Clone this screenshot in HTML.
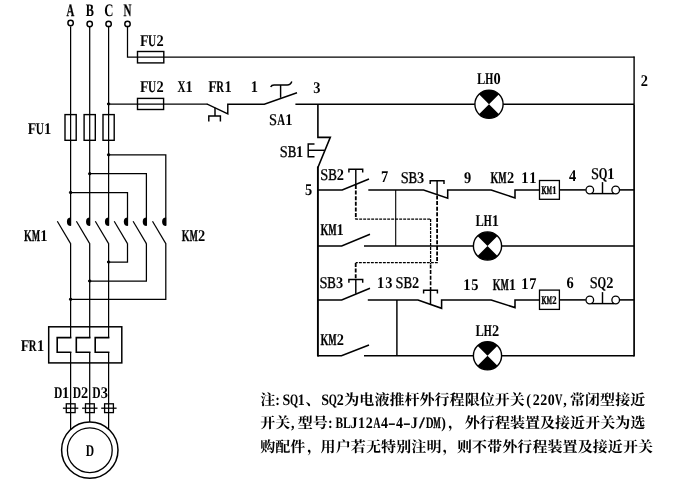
<!DOCTYPE html>
<html><head><meta charset="utf-8"><title>Circuit</title>
<style>
html,body{margin:0;padding:0;background:#fff;}
body{width:677px;height:483px;overflow:hidden;font-family:"Liberation Serif",serif;}
svg{display:block;}
svg .w path, svg .w circle, svg .w rect{stroke:#000;}
svg .w path{fill:none;}
svg text{font-family:"Liberation Serif",serif;font-weight:bold;fill:#000;stroke:#000;vector-effect:non-scaling-stroke;text-rendering:geometricPrecision;}
svg text.r{font-weight:normal;}
svg .t{opacity:.999;}
svg .c text{font-family:"Liberation Serif","Noto Serif CJK SC",serif;font-weight:bold;font-size:15px;stroke:none;}
</style></head><body>
<svg width="677" height="483" viewBox="0 0 677 483">
<rect x="0" y="0" width="677" height="483" fill="#fff"/>
<g class="w" stroke="#000" fill="none">
<circle cx="70.6" cy="23" r="2.7" stroke-width="1.45" fill="#fff"/>
<circle cx="89.7" cy="24" r="2.7" stroke-width="1.45" fill="#fff"/>
<circle cx="108.6" cy="23.9" r="2.7" stroke-width="1.45" fill="#fff"/>
<circle cx="127.5" cy="23.9" r="2.7" stroke-width="1.45" fill="#fff"/>
<path d="M70.6 26.4 L70.6 225.5" stroke-width="1.25"/>
<path d="M89.7 26.4 L89.7 225.5" stroke-width="1.25"/>
<path d="M108.6 26.4 L108.6 225.5" stroke-width="1.25"/>
<path d="M127.5 26.6 L127.5 57.2 L634.5 57.2" stroke-width="1.25"/>
<rect x="65" y="114.6" width="11.2" height="25.7" stroke-width="1.4" fill="none"/>
<rect x="84.1" y="114.6" width="11.2" height="25.7" stroke-width="1.4" fill="none"/>
<rect x="103" y="114.6" width="11.2" height="25.7" stroke-width="1.4" fill="none"/>
<rect x="137.5" y="51.5" width="26.3" height="11.4" stroke-width="1.4" fill="none"/>
<rect x="137.5" y="98.4" width="26.1" height="11.1" stroke-width="1.4" fill="none"/>
<path d="M108.6 154.8 L165.8 154.8 L165.8 225.5" stroke-width="1.25"/>
<path d="M89.7 173.7 L146.4 173.7 L146.4 225.5" stroke-width="1.25"/>
<path d="M70.6 192.5 L127.5 192.5 L127.5 225.5" stroke-width="1.25"/>
<circle cx="108.6" cy="154.8" r="1.2" fill="#000" stroke="none"/>
<circle cx="89.7" cy="173.7" r="1.2" fill="#000" stroke="none"/>
<circle cx="70.6" cy="192.5" r="1.2" fill="#000" stroke="none"/>
<circle cx="108.6" cy="103.9" r="1.2" fill="#000" stroke="none"/>
<path d="M70.9 217.6 A4 4.2 0 0 0 70.9 226 Z" style="fill:#000;stroke:none"/>
<path d="M57.3 221.3 L70.6 243.6" stroke-width="1.2"/>
<path d="M90 217.6 A4 4.2 0 0 0 90 226 Z" style="fill:#000;stroke:none"/>
<path d="M76.4 221.3 L89.7 243.6" stroke-width="1.2"/>
<path d="M108.9 217.6 A4 4.2 0 0 0 108.9 226 Z" style="fill:#000;stroke:none"/>
<path d="M95.3 221.3 L108.6 243.6" stroke-width="1.2"/>
<path d="M127.8 217.6 A4 4.2 0 0 0 127.8 226 Z" style="fill:#000;stroke:none"/>
<path d="M114.2 221.3 L127.5 243.6" stroke-width="1.2"/>
<path d="M146.7 217.6 A4 4.2 0 0 0 146.7 226 Z" style="fill:#000;stroke:none"/>
<path d="M133.1 221.3 L146.4 243.6" stroke-width="1.2"/>
<path d="M166.1 217.6 A4 4.2 0 0 0 166.1 226 Z" style="fill:#000;stroke:none"/>
<path d="M152.5 221.3 L165.8 243.6" stroke-width="1.2"/>
<path d="M70.6 243.2 L70.6 337.6" stroke-width="1.25"/>
<path d="M70.6 336.8 L70.6 337.6 L57.2 337.6 L57.2 352.2 L70.6 352.2 L70.6 353" stroke-width="1.6"/>
<path d="M70.6 352.2 L70.6 404" stroke-width="1.25"/>
<path d="M89.7 243.2 L89.7 337.6" stroke-width="1.25"/>
<path d="M89.7 336.8 L89.7 337.6 L76.3 337.6 L76.3 352.2 L89.7 352.2 L89.7 353" stroke-width="1.6"/>
<path d="M89.7 352.2 L89.7 404" stroke-width="1.25"/>
<path d="M108.6 243.2 L108.6 337.6" stroke-width="1.25"/>
<path d="M108.6 336.8 L108.6 337.6 L95.2 337.6 L95.2 352.2 L108.6 352.2 L108.6 353" stroke-width="1.6"/>
<path d="M108.6 352.2 L108.6 404" stroke-width="1.25"/>
<path d="M127.5 243.2 L127.5 262 L108.6 262" stroke-width="1.25"/>
<path d="M146.4 243.2 L146.4 281 L89.7 281" stroke-width="1.25"/>
<path d="M165.8 243.2 L165.8 299.3 L70.6 299.3" stroke-width="1.25"/>
<circle cx="108.6" cy="262" r="1.2" fill="#000" stroke="none"/>
<circle cx="89.7" cy="281" r="1.2" fill="#000" stroke="none"/>
<circle cx="70.6" cy="299.3" r="1.2" fill="#000" stroke="none"/>
<rect x="48.7" y="326.8" width="73.1" height="36.1" stroke-width="1.5" fill="none"/>
<rect x="66.3" y="403.8" width="8.8" height="8.8" stroke-width="1.3" fill="none"/>
<path d="M62.9 408.2 L78.3 408.2" stroke-width="1.3"/>
<rect x="85.5" y="403.8" width="8.8" height="8.8" stroke-width="1.3" fill="none"/>
<path d="M82.1 408.2 L97.5 408.2" stroke-width="1.3"/>
<rect x="104.6" y="403.8" width="8.8" height="8.8" stroke-width="1.3" fill="none"/>
<path d="M101.2 408.2 L116.6 408.2" stroke-width="1.3"/>
<path d="M70.6 404 L70.6 430" stroke-width="1.25"/>
<path d="M89.7 404 L89.7 423" stroke-width="1.25"/>
<path d="M108.6 404 L108.6 430" stroke-width="1.25"/>
<circle cx="89.8" cy="450.1" r="28.2" stroke-width="1.5" fill="#fff"/>
<circle cx="89.8" cy="450.2" r="22.4" stroke-width="1.3" fill="#fff"/>
<path d="M108.6 104.2 L207.3 104.2" stroke-width="1.2"/>
<path d="M206.8 104.2 L207.3 104.2 L227.8 113.8 L227.8 104.2 L264.3 104.2 L297 92.7" stroke-width="1.45"/>
<path d="M215 107.8 L215 116" stroke-width="1.45"/>
<path d="M208.8 121.5 L208.8 116 L220.4 116 L220.4 121.5" stroke-width="1.45"/>
<path d="M280.6 97.8 L280.6 85" stroke-width="1.45"/>
<path d="M270.7 87 Q271.5 85 274 85 L287.2 85 Q290.6 85 291.8 81.5" stroke-width="1.45"/>
<path d="M295.4 104.2 L634.1 104.2" stroke-width="1.35"/>
<path d="M634.1 56.6 L634.1 104.2" stroke-width="1.4"/>
<path d="M634.1 104.2 L634.1 356.5" stroke-width="1.7"/>
<path d="M317.9 104.2 L317.9 137.4 L330.3 137.4 L317.9 167.5" stroke-width="1.6"/>
<path d="M317.9 166.5 L317.9 356.6" stroke-width="1.9"/>
<path d="M314.5 144 L308.2 144 L308.2 156.7 L314.5 156.7" stroke-width="1.45"/>
<path d="M308.2 150.3 L324.6 150.3" stroke-width="1.45"/>
<path d="M317.9 189.9 L342.2 189.9 L369 179" stroke-width="1.55"/>
<path d="M368.3 189.9 L423.6 189.9 L447.7 198.2 L447.7 189.9 L491.2 189.9 L515 198 L515 189.9 L539.5 189.9" stroke-width="1.55"/>
<path d="M559.3 189.9 L585.8 189.9" stroke-width="1.55"/>
<path d="M619.7 189.9 L634.1 189.9" stroke-width="1.55"/>
<path d="M317.9 246 L341.7 246 L370 234.3" stroke-width="1.55"/>
<path d="M364 246 L634.1 246" stroke-width="1.55"/>
<path d="M395.7 189.9 L395.7 246" stroke-width="1.1"/>
<path d="M317.9 299.9 L341.7 299.9 L370 288.3" stroke-width="1.55"/>
<path d="M367.8 299.9 L418 299.9 L441.6 308.3 L441.6 299.9 L491.2 299.9 L515 307.6 L515 299.9 L539.5 299.9" stroke-width="1.55"/>
<path d="M559.3 299.9 L585.8 299.9" stroke-width="1.55"/>
<path d="M619.7 299.9 L634.1 299.9" stroke-width="1.55"/>
<path d="M317.9 355.8 L341.5 355.8 L369 345" stroke-width="1.55"/>
<path d="M364 355.8 L634.1 355.8" stroke-width="1.55"/>
<path d="M396.9 299.9 L396.9 355.8" stroke-width="1.45"/>
<rect x="539.5" y="180.5" width="19.9" height="18.8" stroke-width="1.3" fill="#fff"/>
<rect x="539.5" y="290.1" width="19.9" height="19.3" stroke-width="1.3" fill="#fff"/>
<circle cx="589.8" cy="190" r="3.8" stroke-width="1.3" fill="#fff"/>
<circle cx="615.7" cy="190" r="3.8" stroke-width="1.3" fill="#fff"/>
<path d="M591.5 193.6 L614 193.6" stroke-width="1.45"/>
<path d="M602.5 182.1 L602.5 193.6" stroke-width="1.45"/>
<circle cx="589.8" cy="300" r="3.8" stroke-width="1.3" fill="#fff"/>
<circle cx="615.7" cy="300" r="3.8" stroke-width="1.3" fill="#fff"/>
<path d="M591.5 303.6 L614 303.6" stroke-width="1.45"/>
<path d="M602.5 292.1 L602.5 303.6" stroke-width="1.45"/>
<circle cx="489" cy="104.2" r="14.1" stroke-width="1.4" fill="#fff"/>
<path d="M489 104.2 L479.03 94.23 A14.1 14.1 0 0 1 498.97 94.23 Z M489 104.2 L498.97 114.17 A14.1 14.1 0 0 1 479.03 114.17 Z" style="fill:#000;stroke:none"/>
<circle cx="487.5" cy="246" r="14.1" stroke-width="1.4" fill="#fff"/>
<path d="M487.5 246 L477.53 236.03 A14.1 14.1 0 0 1 497.47 236.03 Z M487.5 246 L497.47 255.97 A14.1 14.1 0 0 1 477.53 255.97 Z" style="fill:#000;stroke:none"/>
<circle cx="487.5" cy="355.8" r="14.1" stroke-width="1.4" fill="#fff"/>
<path d="M487.5 355.8 L477.53 345.83 A14.1 14.1 0 0 1 497.47 345.83 Z M487.5 355.8 L497.47 365.77 A14.1 14.1 0 0 1 477.53 365.77 Z" style="fill:#000;stroke:none"/>
<path d="M348.9 172.6 L348.9 169.3 L362.7 169.3 L362.7 172.6" stroke-width="1.45"/>
<path d="M355.8 169.3 L355.8 184.5" stroke-width="1.45"/>
<path d="M430.2 184 L430.2 180.7 L444 180.7 L444 184" stroke-width="1.45"/>
<path d="M437.1 180.7 L437.1 194.5" stroke-width="1.45"/>
<path d="M348.9 282.7 L348.9 279.4 L362.7 279.4 L362.7 282.7" stroke-width="1.45"/>
<path d="M355.8 279.4 L355.8 293.8" stroke-width="1.45"/>
<path d="M423.6 293.5 L423.6 290.2 L437.4 290.2 L437.4 293.5" stroke-width="1.45"/>
<path d="M430.5 290.2 L430.5 305" stroke-width="1.45"/>
<path d="M355.8 185 L355.8 219.1" stroke-width="1.8" stroke-dasharray="4 1.6"/>
<path d="M355.2 219.1 L430.6 219.1" stroke-width="1.25" stroke-dasharray="2.9 1.1"/>
<path d="M430.6 219.1 L430.6 264" stroke-width="1.25" stroke-dasharray="2.9 1.1"/>
<path d="M430.6 264.5 L430.6 290.2" stroke-width="1.6" stroke-dasharray="4 1.6"/>
<path d="M437.1 195.5 L437.1 262.7" stroke-width="1.8" stroke-dasharray="4 1.6"/>
<path d="M437.8 262.7 L355.7 262.7" stroke-width="1.25" stroke-dasharray="2.9 1.1"/>
<path d="M355.7 263 L355.7 279.4" stroke-width="1.8" stroke-dasharray="4 1.6"/>
</g>
<g class="t">
<text transform="translate(66.49 15.6) scale(0.612 1)" font-size="17.6" stroke-width="0.28">A</text>
<text transform="translate(85.8 15.6) scale(0.694 1)" font-size="17.6" stroke-width="0.07">B</text>
<text transform="translate(104.18 15.6) scale(0.723 1)" font-size="17.6" stroke-width="0">C</text>
<text transform="translate(123.39 15.6) scale(0.626 1)" font-size="17.6" stroke-width="0.25">N</text>
<text transform="translate(140.06 45.9) scale(0.849 1)" font-size="16.4" stroke-width="0">F</text>
<text transform="translate(148.02 45.9) scale(0.689 1)" font-size="16.4" stroke-width="0.07">U</text>
<text transform="translate(156.5 45.9) scale(0.880 1)" font-size="16.4" stroke-width="0">2</text>
<text transform="translate(140.06 92.4) scale(0.849 1)" font-size="16.4" stroke-width="0">F</text>
<text transform="translate(148.02 92.4) scale(0.689 1)" font-size="16.4" stroke-width="0.07">U</text>
<text transform="translate(156.5 92.4) scale(0.880 1)" font-size="16.4" stroke-width="0">2</text>
<text transform="translate(177.4 92.4) scale(0.670 1)" font-size="16.4" stroke-width="0.12">X</text>
<text transform="translate(185.59 92.4) scale(0.880 1)" font-size="16.4" stroke-width="0">1</text>
<text transform="translate(208.16 92.2) scale(0.849 1)" font-size="16.4" stroke-width="0">F</text>
<text transform="translate(216.22 92.2) scale(0.649 1)" font-size="16.4" stroke-width="0.17">R</text>
<text transform="translate(224.39 92.2) scale(0.880 1)" font-size="16.4" stroke-width="0">1</text>
<text transform="translate(250.84 92.2) scale(0.880 1)" font-size="16.4" stroke-width="0">1</text>
<text transform="translate(313.36 92.6) scale(0.880 1)" font-size="16.4" stroke-width="0">3</text>
<text transform="translate(269.07 125) scale(0.880 1)" font-size="16.4" stroke-width="0.28" class="r">S</text>
<text transform="translate(277.22 125) scale(0.657 1)" font-size="16.4" stroke-width="0.15">A</text>
<text transform="translate(285.31 125) scale(0.880 1)" font-size="16.4" stroke-width="0">1</text>
<text transform="translate(279.87 156.5) scale(0.880 1)" font-size="16.4" stroke-width="0.28" class="r">S</text>
<text transform="translate(287.75 156.5) scale(0.786 1)" font-size="16.4" stroke-width="0.42" class="r">B</text>
<text transform="translate(296.11 156.5) scale(0.880 1)" font-size="16.4" stroke-width="0">1</text>
<text transform="translate(27.86 133.5) scale(0.849 1)" font-size="16.4" stroke-width="0">F</text>
<text transform="translate(35.82 133.5) scale(0.689 1)" font-size="16.4" stroke-width="0.07">U</text>
<text transform="translate(44.09 133.5) scale(0.880 1)" font-size="16.4" stroke-width="0">1</text>
<text transform="translate(24.03 241.2) scale(0.615 1)" font-size="16.4" stroke-width="0.26">K</text>
<text transform="translate(32.06 241.2) scale(0.516 1)" font-size="16.4" stroke-width="0.5">M</text>
<text transform="translate(40.19 241.2) scale(0.880 1)" font-size="16.4" stroke-width="0">1</text>
<text transform="translate(181.63 241.2) scale(0.615 1)" font-size="16.4" stroke-width="0.26">K</text>
<text transform="translate(189.66 241.2) scale(0.516 1)" font-size="16.4" stroke-width="0.5">M</text>
<text transform="translate(198 241.2) scale(0.880 1)" font-size="16.4" stroke-width="0">2</text>
<text transform="translate(20.66 351) scale(0.849 1)" font-size="16.4" stroke-width="0">F</text>
<text transform="translate(28.72 351) scale(0.649 1)" font-size="16.4" stroke-width="0.17">R</text>
<text transform="translate(36.89 351) scale(0.880 1)" font-size="16.4" stroke-width="0">1</text>
<text transform="translate(53.9 398) scale(0.707 1)" font-size="16.4" stroke-width="0.03">D</text>
<text transform="translate(62.09 398) scale(0.880 1)" font-size="16.4" stroke-width="0">1</text>
<text transform="translate(72.7 398) scale(0.707 1)" font-size="16.4" stroke-width="0.03">D</text>
<text transform="translate(81.1 398) scale(0.880 1)" font-size="16.4" stroke-width="0">2</text>
<text transform="translate(92.3 398) scale(0.707 1)" font-size="16.4" stroke-width="0.03">D</text>
<text transform="translate(100.67 398) scale(0.880 1)" font-size="16.4" stroke-width="0">3</text>
<text transform="translate(85.8 455.8) scale(0.707 1)" font-size="16.4" stroke-width="0.03">D</text>
<text transform="translate(477.09 83.7) scale(0.762 1)" font-size="16.4" stroke-width="0">L</text>
<text transform="translate(485.13 83.7) scale(0.623 1)" font-size="16.4" stroke-width="0.24">H</text>
<text transform="translate(493.49 83.7) scale(0.880 1)" font-size="16.4" stroke-width="0">0</text>
<text transform="translate(640.79 85.6) scale(0.880 1)" font-size="16.4" stroke-width="0">2</text>
<text transform="translate(305.02 195.3) scale(0.880 1)" font-size="16.4" stroke-width="0">5</text>
<text transform="translate(320.27 180.2) scale(0.880 1)" font-size="16.4" stroke-width="0.28" class="r">S</text>
<text transform="translate(328.15 180.2) scale(0.786 1)" font-size="16.4" stroke-width="0.42" class="r">B</text>
<text transform="translate(336.72 180.2) scale(0.880 1)" font-size="16.4" stroke-width="0">2</text>
<text transform="translate(380.98 182) scale(0.880 1)" font-size="16.4" stroke-width="0">7</text>
<text transform="translate(400.67 182.5) scale(0.880 1)" font-size="16.4" stroke-width="0.28" class="r">S</text>
<text transform="translate(408.55 182.5) scale(0.786 1)" font-size="16.4" stroke-width="0.42" class="r">B</text>
<text transform="translate(417.09 182.5) scale(0.880 1)" font-size="16.4" stroke-width="0">3</text>
<text transform="translate(463.91 182.6) scale(0.880 1)" font-size="16.4" stroke-width="0">9</text>
<text transform="translate(490.53 182.6) scale(0.615 1)" font-size="16.4" stroke-width="0.26">K</text>
<text transform="translate(498.56 182.6) scale(0.516 1)" font-size="16.4" stroke-width="0.5">M</text>
<text transform="translate(506.9 182.6) scale(0.880 1)" font-size="16.4" stroke-width="0">2</text>
<text transform="translate(521.24 182.6) scale(0.880 1)" font-size="16.4" stroke-width="0">1</text>
<text transform="translate(529.24 182.6) scale(0.880 1)" font-size="16.4" stroke-width="0">1</text>
<text transform="translate(569 181) scale(0.880 1)" font-size="16.4" stroke-width="0">4</text>
<text transform="translate(591.07 179.2) scale(0.880 1)" font-size="16.4" stroke-width="0.28" class="r">S</text>
<text transform="translate(598.78 179.2) scale(0.676 1)" font-size="16.4" stroke-width="0.11">Q</text>
<text transform="translate(607.31 179.2) scale(0.880 1)" font-size="16.4" stroke-width="0">1</text>
<text transform="translate(320.43 235.4) scale(0.615 1)" font-size="16.4" stroke-width="0.26">K</text>
<text transform="translate(328.46 235.4) scale(0.516 1)" font-size="16.4" stroke-width="0.5">M</text>
<text transform="translate(336.59 235.4) scale(0.880 1)" font-size="16.4" stroke-width="0">1</text>
<text transform="translate(475.59 226) scale(0.762 1)" font-size="16.4" stroke-width="0">L</text>
<text transform="translate(483.63 226) scale(0.623 1)" font-size="16.4" stroke-width="0.24">H</text>
<text transform="translate(491.79 226) scale(0.880 1)" font-size="16.4" stroke-width="0">1</text>
<text transform="translate(319.47 288.1) scale(0.880 1)" font-size="16.4" stroke-width="0.28" class="r">S</text>
<text transform="translate(327.35 288.1) scale(0.786 1)" font-size="16.4" stroke-width="0.42" class="r">B</text>
<text transform="translate(335.89 288.1) scale(0.880 1)" font-size="16.4" stroke-width="0">3</text>
<text transform="translate(377.04 287.8) scale(0.880 1)" font-size="16.4" stroke-width="0">1</text>
<text transform="translate(385.22 287.8) scale(0.880 1)" font-size="16.4" stroke-width="0">3</text>
<text transform="translate(395.57 287.8) scale(0.880 1)" font-size="16.4" stroke-width="0.28" class="r">S</text>
<text transform="translate(403.45 287.8) scale(0.786 1)" font-size="16.4" stroke-width="0.42" class="r">B</text>
<text transform="translate(412.02 287.8) scale(0.880 1)" font-size="16.4" stroke-width="0">2</text>
<text transform="translate(463.14 290.2) scale(0.880 1)" font-size="16.4" stroke-width="0">1</text>
<text transform="translate(471.32 290.2) scale(0.880 1)" font-size="16.4" stroke-width="0">5</text>
<text transform="translate(492.63 290.2) scale(0.615 1)" font-size="16.4" stroke-width="0.26">K</text>
<text transform="translate(500.66 290.2) scale(0.516 1)" font-size="16.4" stroke-width="0.5">M</text>
<text transform="translate(508.79 290.2) scale(0.880 1)" font-size="16.4" stroke-width="0">1</text>
<text transform="translate(521.24 289.2) scale(0.880 1)" font-size="16.4" stroke-width="0">1</text>
<text transform="translate(529.21 289.2) scale(0.880 1)" font-size="16.4" stroke-width="0">7</text>
<text transform="translate(566.51 288.3) scale(0.880 1)" font-size="16.4" stroke-width="0">6</text>
<text transform="translate(589.87 288.1) scale(0.880 1)" font-size="16.4" stroke-width="0.28" class="r">S</text>
<text transform="translate(597.58 288.1) scale(0.676 1)" font-size="16.4" stroke-width="0.11">Q</text>
<text transform="translate(606.32 288.1) scale(0.880 1)" font-size="16.4" stroke-width="0">2</text>
<text transform="translate(320.43 345) scale(0.615 1)" font-size="16.4" stroke-width="0.26">K</text>
<text transform="translate(328.46 345) scale(0.516 1)" font-size="16.4" stroke-width="0.5">M</text>
<text transform="translate(336.8 345) scale(0.880 1)" font-size="16.4" stroke-width="0">2</text>
<text transform="translate(475.59 336.2) scale(0.762 1)" font-size="16.4" stroke-width="0">L</text>
<text transform="translate(483.63 336.2) scale(0.623 1)" font-size="16.4" stroke-width="0.24">H</text>
<text transform="translate(492 336.2) scale(0.880 1)" font-size="16.4" stroke-width="0">2</text>
<text transform="translate(541.59 193.8) scale(0.561 1)" font-size="11.6" stroke-width="0.55">K</text>
<text transform="translate(546.71 193.8) scale(0.470 1)" font-size="11.6" stroke-width="0.55">M</text>
<text transform="translate(551.9 193.8) scale(0.800 1)" font-size="11.6" stroke-width="0.19">1</text>
<text transform="translate(541.59 303.5) scale(0.561 1)" font-size="11.6" stroke-width="0.55">K</text>
<text transform="translate(546.71 303.5) scale(0.470 1)" font-size="11.6" stroke-width="0.55">M</text>
<text transform="translate(552.03 303.5) scale(0.800 1)" font-size="11.6" stroke-width="0.19">2</text>
<text transform="translate(275.25 404.5) scale(0.880 1)" font-size="15.9" stroke-width="0">:</text>
<text transform="translate(282.49 404.5) scale(0.880 1)" font-size="15.9" stroke-width="0">S</text>
<text transform="translate(289.91 404.5) scale(0.655 1)" font-size="15.9" stroke-width="0.11">Q</text>
<text transform="translate(297.82 404.5) scale(0.880 1)" font-size="15.9" stroke-width="0">1</text>
<text transform="translate(321.34 404.5) scale(0.880 1)" font-size="15.9" stroke-width="0">S</text>
<text transform="translate(328.76 404.5) scale(0.655 1)" font-size="15.9" stroke-width="0.11">Q</text>
<text transform="translate(336.87 404.5) scale(0.880 1)" font-size="15.9" stroke-width="0">2</text>
<text transform="translate(526.2 404.5) scale(0.880 1)" font-size="15.9" stroke-width="0">(</text>
<text transform="translate(532.65 404.5) scale(0.880 1)" font-size="15.9" stroke-width="0">2</text>
<text transform="translate(540.18 404.5) scale(0.880 1)" font-size="15.9" stroke-width="0">2</text>
<text transform="translate(547.71 404.5) scale(0.880 1)" font-size="15.9" stroke-width="0">0</text>
<text transform="translate(555.06 404.5) scale(0.641 1)" font-size="15.9" stroke-width="0.14">V</text>
<text transform="translate(563.29 404.5) scale(0.880 1)" font-size="15.9" stroke-width="0">,</text>
<text transform="translate(291.01 428.2) scale(0.880 1)" font-size="15.9" stroke-width="0">,</text>
<text transform="translate(327.96 428.2) scale(0.880 1)" font-size="15.9" stroke-width="0">:</text>
<text transform="translate(335.41 428.2) scale(0.720 1)" font-size="15.9" stroke-width="0">B</text>
<text transform="translate(342.93 428.2) scale(0.738 1)" font-size="15.9" stroke-width="0">L</text>
<text transform="translate(350.61 428.2) scale(0.880 1)" font-size="15.9" stroke-width="0">J</text>
<text transform="translate(358.06 428.2) scale(0.880 1)" font-size="15.9" stroke-width="0">1</text>
<text transform="translate(365.79 428.2) scale(0.880 1)" font-size="15.9" stroke-width="0">2</text>
<text transform="translate(373.15 428.2) scale(0.636 1)" font-size="15.9" stroke-width="0.15">A</text>
<text transform="translate(380.88 428.2) scale(0.880 1)" font-size="15.9" stroke-width="0">4</text>
<text transform="translate(388.29 428.2) scale(1.356 1)" font-size="15.9" stroke-width="0.3">-</text>
<text transform="translate(395.94 428.2) scale(0.880 1)" font-size="15.9" stroke-width="0">4</text>
<text transform="translate(403.35 428.2) scale(1.356 1)" font-size="15.9" stroke-width="0.3">-</text>
<text transform="translate(410.85 428.2) scale(0.880 1)" font-size="15.9" stroke-width="0">J</text>
<text transform="translate(419.29 428.2) scale(1.225 1)" font-size="15.9" stroke-width="0.3">/</text>
<text transform="translate(425.77 428.2) scale(0.684 1)" font-size="15.9" stroke-width="0.04">D</text>
<text transform="translate(433.35 428.2) scale(0.499 1)" font-size="15.9" stroke-width="0.48">M</text>
<text transform="translate(441.34 428.2) scale(0.880 1)" font-size="15.9" stroke-width="0">)</text>
</g>
<g class="c" fill="#000">
<text x="260.3" y="404.5" stroke-width="0">注</text>
<text x="305.5" y="404.5" stroke-width="0">、</text>
<text x="344.3" y="404.5" textLength="180.5" lengthAdjust="spacing" stroke-width="0">为电液推杆外行程限位开关</text>
<text x="570" y="404.5" textLength="75.2" lengthAdjust="spacing" stroke-width="0">常闭型接近</text>
<text x="260.3" y="428.2" textLength="30" lengthAdjust="spacing" stroke-width="0">开关</text>
<text x="297.8" y="428.2" textLength="30" lengthAdjust="spacing" stroke-width="0">型号</text>
<text x="448" y="428.2" stroke-width="0">，</text>
<text x="464.8" y="428.2" textLength="180.5" lengthAdjust="spacing" stroke-width="0">外行程装置及接近开关为选</text>
<text x="260.2" y="452" textLength="45" lengthAdjust="spacing" stroke-width="0">购配件</text>
<text x="307" y="452" stroke-width="0">，</text>
<text x="320.5" y="452" textLength="121" lengthAdjust="spacing" stroke-width="0">用户若无特别注明</text>
<text x="442.5" y="452" stroke-width="0">，</text>
<text x="457" y="452" textLength="196" lengthAdjust="spacing" stroke-width="0">则不带外行程装置及接近开关</text>
</g>
</svg>
</body></html>
